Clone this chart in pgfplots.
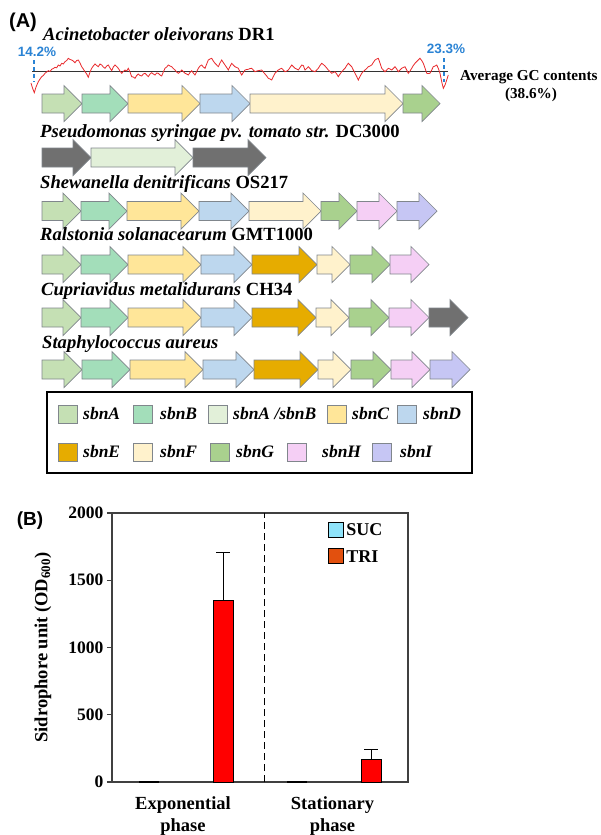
\documentclass[border=0pt]{standalone}
\usepackage{pgfplots}
\pgfplotsset{compat=1.18}
\usepackage{fontspec}
\setmainfont{Liberation Serif}
\newfontfamily\arialfont{Liberation Sans}

\definecolor{cA}{HTML}{C5E0B4}
\definecolor{cB}{HTML}{A3DEBA}
\definecolor{cAB}{HTML}{E2F0D9}
\definecolor{cC}{HTML}{FFE699}
\definecolor{cD}{HTML}{BDD7EE}
\definecolor{cE}{HTML}{E6AC00}
\definecolor{cF}{HTML}{FFF2CC}
\definecolor{cG}{HTML}{A9D18E}
\definecolor{cH}{HTML}{F5CFF5}
\definecolor{cI}{HTML}{C6C6F4}
\definecolor{cgrey}{HTML}{707070}
\definecolor{arrowline}{HTML}{80868C}
\definecolor{gcred}{HTML}{E8282B}
\definecolor{gcblue}{HTML}{2A83D4}
\definecolor{succol}{HTML}{8FE3FA}
\definecolor{tricol}{HTML}{FF0000}
\definecolor{trileg}{HTML}{E2500E}

\newcommand{\ghl}{18}
\newcommand{\gbh}{9.5}
\newcommand{\ghh}{18}

% gene arrow: x0, x1, ycenter, colour
\newcommand{\gene}[4]{%
 \pgfmathsetmacro\gxh{#2-\ghl}%
 \pgfmathsetmacro\gya{#3-\gbh}%
 \pgfmathsetmacro\gyb{#3+\gbh}%
 \pgfmathsetmacro\gyc{#3-\ghh}%
 \pgfmathsetmacro\gyd{#3+\ghh}%
 \addplot[fill=#4, draw=arrowline, line width=0.7pt] coordinates {(#1,\gya) (\gxh,\gya) (\gxh,\gyc) (#2,#3) (\gxh,\gyd) (\gxh,\gyb) (#1,\gyb)} -- cycle;%
}
% legend swatch: x0, ycenter, colour
\newcommand{\swatch}[3]{%
 \pgfmathsetmacro\sxa{#1+19}%
 \pgfmathsetmacro\sya{#2-9}%
 \pgfmathsetmacro\syb{#2+9}%
 \addplot[fill=#3, draw=arrowline, line width=0.8pt] coordinates {(#1,\sya) (\sxa,\sya) (\sxa,\syb) (#1,\syb)} -- cycle;%
}
\newcommand{\titlefont}{\fontsize{18.6}{20}\selectfont\bfseries}
\newcommand{\legfont}{\fontsize{17.5}{20}\selectfont\bfseries\itshape}

\begin{document}
\begin{tikzpicture}
\useasboundingbox (0,0) rectangle (601pt,-835pt);

\begin{axis}[
  at={(0pt,0pt)}, anchor=north west,
  scale only axis, width=601pt, height=835pt,
  xmin=0, xmax=601, ymin=0, ymax=835, y dir=reverse,
  enlargelimits=false, hide axis, clip=false,
]
% GC content average line and curve
\addplot[black!80, line width=0.9pt] coordinates {(32,71.5) (448,71.5)};
\addplot[gcred, line width=0.8pt] coordinates {
(31,83) (32.5,88) (34.3,92.7) (36,87) (38.3,81.7) (40,79) (41.7,76.7) (43.3,75.5) (45,73.3) (46.7,72) (48.3,70.7) (50,71.5) (51.7,69.3) (53.3,68.5) (55,67.3) (56.7,67.8) (58.3,65) (60,66) (61.7,63.3) (63.3,64) (65,61.7) (66.7,60.5) (68.3,58.3) (70,59.5) (71.7,60) (73.3,61) (75,62.7) (76.7,60.5) (78.3,60) (80,63) (81.7,66.7) (83.3,69) (85,71.7) (86.7,74) (88.3,77.3) (90,72) (91.7,68.3) (93.3,66) (95,64) (96.7,65.5) (98.3,66.7) (100,64) (101.7,65) (103.3,67) (105,68.3) (106.7,66) (108.3,65) (110,68) (111.7,70.7) (113.3,67) (115,65) (116.7,66.5) (118.3,68.3) (120,71) (121.7,73.3) (123.3,71.5) (125,70) (126.7,71) (128.3,68.3) (130,72) (131.7,76.7) (133.3,77) (135,78.3) (136.7,75.5) (138.3,74) (140,75.5) (141.7,76) (143.3,74) (145,73.3) (146.7,75) (148.3,76.7) (150,74) (151.7,72.7) (153.3,74) (155,75) (156.7,73) (158.3,73.3) (160,75) (161.7,76) (163.3,72)
(165,68.3) (166.7,67) (168.3,65) (170,66) (171.7,66.7) (173.3,68.5) (175,70) (176.7,72) (178.3,73.3) (180,72) (181.7,70) (183.3,71.5) (185,73.3) (186.7,74) (188.3,75) (190,72.5) (191.7,70.7) (193.3,73) (195,75) (196.7,71.5) (198.3,68.3) (200,66) (201.7,65) (203.3,67) (205,68.3) (206.7,64) (208.3,60) (210,59) (211.7,58.3) (213.3,61) (215,63.3) (216.7,65) (218.3,66.7) (220,63) (221.7,60) (223.3,62.5) (225,65) (226.7,67.5) (228.3,70) (230,66.5) (231.7,63.3) (233.3,65) (235,66.7) (236.7,67.5) (238.3,68.3) (240,72) (241.7,75) (243.3,72.5) (245,70) (246.7,69.5) (248.3,69.3) (250,68.5) (251.7,68.3) (253.3,70) (255,71.7) (256.7,71) (258.3,70.7) (260,70.3) (261.7,70) (263.3,72) (265,74) (266.7,76) (268.3,78.3) (270,79) (271.7,80) (273.3,76.5) (275,73.3) (276.7,71.5) (278.3,70) (280,69) (281.7,68.3) (283.3,70) (285,71.7) (286.7,71) (288.3,70) (290,67.5) (291.7,65) (293.3,66.5) (295,68.3) (296.7,69) (298.3,70) (300,67.5) (301.7,65) (303.3,65.5)
(305,70) (306.7,68.5) (308.3,66.7) (310,68.5) (311.7,70.7) (313.3,71) (315,71.7) (316.7,70) (318.3,68.3) (320,65.5) (321.7,63.3) (323.3,64.5) (325,66) (326.7,68) (328.3,70) (330,71.5) (331.7,73.3) (333.3,72.5) (335,71.7) (336.7,74) (338.3,76.7) (340,74) (341.7,71.7) (343.3,70) (345,68.3) (346.7,65.5) (348.3,63.3) (350,65) (351.7,66.7) (353.3,70) (355,73.3) (356.7,76.5) (358.3,80) (360,76.5) (361.7,73.3) (363.3,71.5) (365,70) (366.7,68.5) (368.3,66.7) (370,66) (371.7,65) (373.3,62.5) (375,60) (376.7,59) (378.3,58.3) (380,63) (381.7,68.3) (383.3,70) (385,71.7) (386.7,70) (388.3,68.3) (390,69) (391.7,70) (393.3,68.5) (395,66.7) (396.7,69) (398.3,71.7) (400,70) (401.7,68.3) (403.3,67.5) (405,66.7) (406.7,70) (408.3,73.3) (410,71) (411.7,68.3) (413.3,65.5) (415,63.3) (416.7,61.5) (418.3,60) (420,58.3) (421.7,60.5) (423.3,63.3) (425,68) (426.7,73.3) (428.3,73.5) (430,73.3) (431.7,70) (433.3,66.7) (435,66) (436.7,65) (438.3,68.3) (440,73.3) (441.7,81.7) (443.3,88.3) (445,85) (446.7,80) (448.3,75)
};
\addplot[gcblue, line width=1.2pt, dash pattern=on 4pt off 3pt] coordinates {(34,60) (34,82)};
\addplot[gcblue, line width=1.2pt, dash pattern=on 4pt off 3pt] coordinates {(444,58) (444,82)};

% row 1: Acinetobacter
\gene{42}{82}{103.5}{cA}
\gene{82}{128}{103.5}{cB}
\gene{128}{200}{103.5}{cC}
\gene{200}{250}{103.5}{cD}
\gene{250}{403}{103.5}{cF}
\gene{403}{440}{103.5}{cG}
% row 2: Pseudomonas
\gene{42}{91}{157.5}{cgrey}
\gene{91}{193}{157.5}{cAB}
\gene{193}{266}{157.5}{cgrey}
% row 3: Shewanella
\gene{42}{81}{211}{cA}
\gene{81}{127}{211}{cB}
\gene{127}{199}{211}{cC}
\gene{199}{249}{211}{cD}
\gene{249}{321}{211}{cF}
\gene{321}{357}{211}{cG}
\gene{357}{397}{211}{cH}
\gene{397}{437}{211}{cI}
% row 4: Ralstonia
\gene{42}{81}{264.5}{cA}
\gene{81}{128}{264.5}{cB}
\gene{128}{201}{264.5}{cC}
\gene{201}{252}{264.5}{cD}
\gene{252}{317}{264.5}{cE}
\gene{317}{350}{264.5}{cF}
\gene{350}{390}{264.5}{cG}
\gene{390}{429}{264.5}{cH}
% row 5: Cupriavidus
\gene{42}{81}{317.5}{cA}
\gene{81}{128}{317.5}{cB}
\gene{128}{201}{317.5}{cC}
\gene{201}{252}{317.5}{cD}
\gene{252}{316}{317.5}{cE}
\gene{316}{349}{317.5}{cF}
\gene{349}{389}{317.5}{cG}
\gene{389}{429}{317.5}{cH}
\gene{429}{468}{317.5}{cgrey}
% row 6: Staphylococcus
\gene{42}{82}{369.5}{cA}
\gene{82}{130}{369.5}{cB}
\gene{130}{203}{369.5}{cC}
\gene{203}{254}{369.5}{cD}
\gene{254}{318}{369.5}{cE}
\gene{318}{351}{369.5}{cF}
\gene{351}{391}{369.5}{cG}
\gene{391}{430}{369.5}{cH}
\gene{430}{470}{369.5}{cI}

% legend box
\addplot[black, line width=2pt] coordinates {(47,392) (472,392) (472,473) (47,473)} -- cycle;
\swatch{58}{414}{cA}
\swatch{133}{414}{cB}
\swatch{208}{414}{cAB}
\swatch{327}{414}{cC}
\swatch{397}{414}{cD}
\swatch{58}{452}{cE}
\swatch{133}{452}{cF}
\swatch{210}{452}{cG}
\swatch{287}{452}{cH}
\swatch{372}{452}{cI}

\node[anchor=west, font=\legfont, inner sep=0pt] at (axis cs:83,414) {sbnA};
\node[anchor=west, font=\legfont, inner sep=0pt] at (axis cs:160,414) {sbnB};
\node[anchor=west, font=\legfont, inner sep=0pt] at (axis cs:233,414) {sbnA /sbnB};
\node[anchor=west, font=\legfont, inner sep=0pt] at (axis cs:352,414) {sbnC};
\node[anchor=west, font=\legfont, inner sep=0pt] at (axis cs:423,414) {sbnD};
\node[anchor=west, font=\legfont, inner sep=0pt] at (axis cs:83,452) {sbnE};
\node[anchor=west, font=\legfont, inner sep=0pt] at (axis cs:160,452) {sbnF};
\node[anchor=west, font=\legfont, inner sep=0pt] at (axis cs:236,452) {sbnG};
\node[anchor=west, font=\legfont, inner sep=0pt] at (axis cs:322,452) {sbnH};
\node[anchor=west, font=\legfont, inner sep=0pt] at (axis cs:400,452) {sbnI};

% titles
\node[anchor=base west, font=\titlefont, inner sep=0pt] at (axis cs:43,40) {\textit{Acinetobacter oleivorans} DR1};
\node[anchor=base west, font=\titlefont, inner sep=0pt] at (axis cs:40,137) {\textit{Pseudomonas syringae pv. tomato str.} DC3000};
\node[anchor=base west, font=\titlefont, inner sep=0pt] at (axis cs:40,188) {\textit{Shewanella denitrificans} OS217};
\node[anchor=base west, font=\titlefont, inner sep=0pt] at (axis cs:40,240) {\textit{Ralstonia solanacearum} GMT1000};
\node[anchor=base west, font=\titlefont, inner sep=0pt] at (axis cs:41,295) {\textit{Cupriavidus metalidurans} CH34};
\node[anchor=base west, font=\titlefont, inner sep=0pt] at (axis cs:42,348) {\textit{Staphylococcus aureus}};

\node[font=\arialfont\fontsize{20}{22}\selectfont\bfseries, inner sep=0pt] at (axis cs:23,22) {(A)};
\node[font=\arialfont\fontsize{19}{21}\selectfont\bfseries, inner sep=0pt] at (axis cs:30,521) {(B)};
\node[font=\arialfont\fontsize{13.5}{15}\selectfont\bfseries, text=gcblue, inner sep=0pt] at (axis cs:37,52) {14.2\%};
\node[font=\arialfont\fontsize{13.5}{15}\selectfont\bfseries, text=gcblue, inner sep=0pt] at (axis cs:446,49) {23.3\%};
\node[anchor=base west, font=\fontsize{15.2}{17}\selectfont\bfseries, inner sep=0pt] at (axis cs:460,80) {Average GC contents};
\node[anchor=base, font=\fontsize{15.2}{17}\selectfont\bfseries, inner sep=0pt] at (axis cs:531,98) {(38.6\%)};
\end{axis}

\begin{axis}[
  at={(112pt,-782pt)}, anchor=south west,
  scale only axis, width=296pt, height=269pt,
  xmin=0, xmax=2, ymin=0, ymax=2000,
  xtick={0.48,1.49},
  xticklabels={{Exponential\\phase},{Stationary\\phase}},
  x tick label style={align=center, font=\fontsize{18.5}{22}\selectfont\bfseries, yshift=-6pt},
  xtick style={draw=none},
  ytick={0,500,1000,1500,2000}, ytick pos=left,
  tick align=outside, major tick length=5pt,
  y tick label style={font=\fontsize{17.5}{20}\selectfont\bfseries},
  /pgf/number format/assume math mode=true,
  /pgf/number format/1000 sep={},
  ylabel={Sidrophore unit (OD\textsubscript{600})},
  ylabel style={font=\fontsize{18.5}{20}\selectfont\bfseries, at={(axis description cs:-0.233,0.5)}, anchor=center},
  axis line style={line width=1.2pt, black!75},
  every tick/.style={black!75, line width=1.2pt},
  legend style={draw=none, fill=none, at={(0.72,0.975)}, anchor=north west,
    font=\fontsize{18}{20}\selectfont\bfseries, row sep=9pt, cells={anchor=west}},
  legend image code/.code={\draw[#1, line width=1pt] (0pt,-7pt) rectangle (15pt,8pt);},
]
\addlegendimage{fill=succol, draw=black}
\addlegendentry{SUC}
\addlegendimage{fill=trileg, draw=black}
\addlegendentry{TRI}
\addplot[black, line width=1.2pt, dash pattern=on 7pt off 4pt, forget plot] coordinates {(1.03,0) (1.03,2000)};
\addplot[ybar, bar width=19pt, bar shift=0pt, fill=succol, draw=black, line width=0.8pt, forget plot] coordinates {(0.25,3) (1.25,3)};
\addplot[ybar, bar width=20pt, bar shift=0pt, fill=tricol, draw=black, line width=0.8pt, forget plot,
  error bars/.cd, y dir=plus, y explicit,
  error bar style={black, line width=1pt},
  error mark options={rotate=90, mark size=7pt, black, line width=1pt}]
  coordinates {(0.75,1350) +- (0,360) (1.75,170) +- (0,75)};
\end{axis}
\end{tikzpicture}
\end{document}
